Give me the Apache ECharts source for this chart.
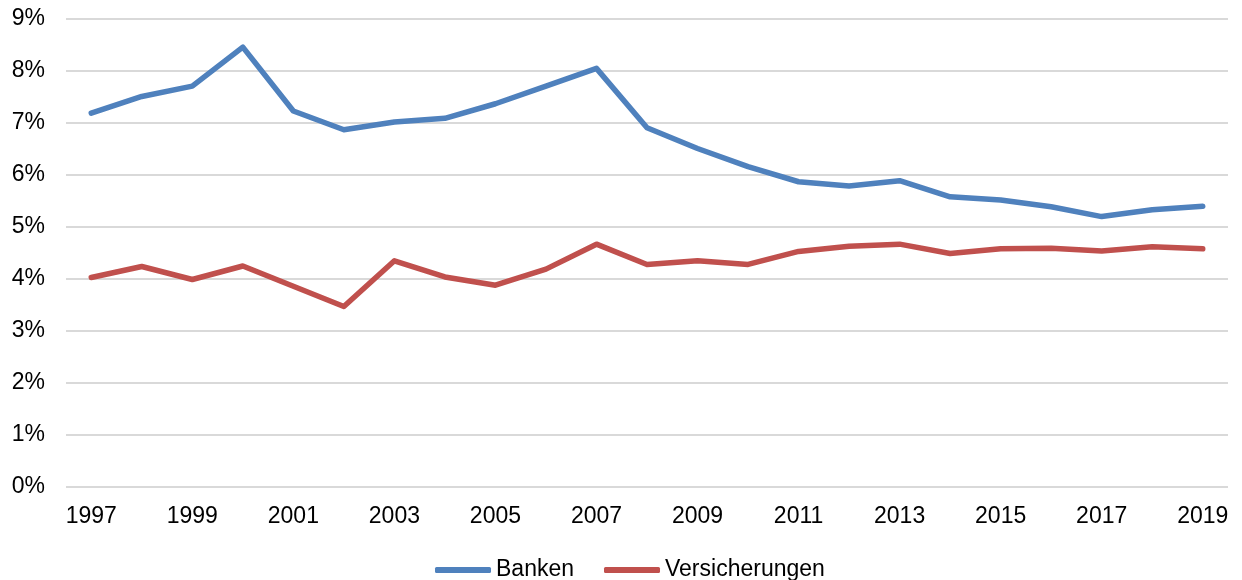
<!DOCTYPE html>
<html>
<head>
<meta charset="utf-8">
<script src="https://cdn.jsdelivr.net/npm/echarts@6/dist/echarts.min.js"></script>
<style>
html,body{margin:0;padding:0;background:#fff;}
#chart{width:1242px;height:580px;}
</style>
</head>
<body>
<div id="chart"></div>
<script>
var years = ['1997','1998','1999','2000','2001','2002','2003','2004','2005','2006','2007','2008','2009','2010','2011','2012','2013','2014','2015','2016','2017','2018','2019'];
var banken = [7.19,7.51,7.71,8.46,7.23,6.87,7.02,7.09,7.37,7.71,8.05,6.91,6.51,6.16,5.87,5.79,5.89,5.58,5.52,5.39,5.20,5.33,5.40];
var versicherungen = [4.03,4.24,3.99,4.25,3.86,3.47,4.35,4.04,3.88,4.19,4.67,4.28,4.35,4.28,4.53,4.63,4.67,4.49,4.58,4.59,4.54,4.62,4.58];
var seriesNames = ['Banken','Versicherungen'];

var chart = echarts.init(document.getElementById('chart'), null, {renderer:'canvas'});
var font = 'Liberation Sans, Arial, sans-serif';
chart.setOption({
  animation:false,
  backgroundColor:'#ffffff',
  grid:{left:66,right:14,top:19,bottom:93,containLabel:false},
  legend:{
    data:seriesNames,
    left:430, top:553,
    icon:'roundRect',
    itemWidth:56, itemHeight:6, itemGap:30,
    textStyle:{fontFamily:font,fontSize:23,color:'#000',lineHeight:24}
  },
  xAxis:{
    type:'category',
    data:years,
    boundaryGap:true,
    axisLine:{show:false},
    axisTick:{show:false},
    axisLabel:{interval:1,margin:18,fontFamily:font,fontSize:23,color:'#000'}
  },
  yAxis:{
    type:'value',
    min:0,max:9,interval:1,
    axisLine:{show:false},
    axisTick:{show:false},
    splitLine:{lineStyle:{color:'#d9d9d9',width:2}},
    axisLabel:{margin:21,fontFamily:font,fontSize:23,color:'#000',formatter:'{value}%'}
  },
  series:[
    {name:seriesNames[0],type:'line',data:banken,symbol:'none',color:'#4f81bd',
     lineStyle:{width:5.5,color:'#4f81bd',cap:'round',join:'round'}},
    {name:seriesNames[1],type:'line',data:versicherungen,symbol:'none',color:'#c0504d',
     lineStyle:{width:5.5,color:'#c0504d',cap:'round',join:'round'}}
  ]
});
</script>
</body>
</html>
